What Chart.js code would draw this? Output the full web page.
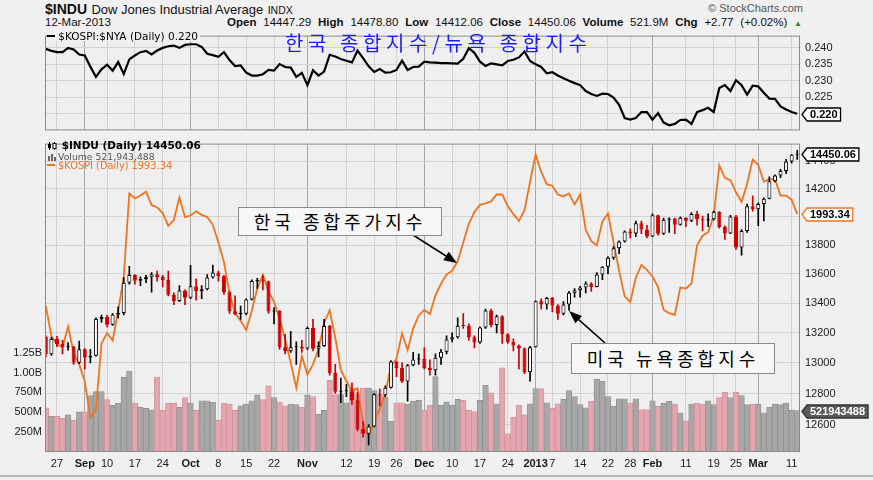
<!DOCTYPE html>
<html>
<head>
<meta charset="utf-8">
<script src="https://cdn.jsdelivr.net/npm/chart.js@4.4.1/dist/chart.umd.min.js"></script>
<style>
  body { margin: 0; width: 873px; height: 480px; overflow: hidden; position: relative;
         background: #f0f0f0; font-family: "Liberation Sans", Arial, sans-serif; color: #111; }
  .t { position: absolute; white-space: nowrap; }
  canvas { position: absolute; left: 0; }
  .leg { position: absolute; white-space: nowrap; font-family: "DejaVu Sans", Verdana, sans-serif; color: #000; }
  .kbox { position: absolute; background: #f7f7f7; border: 1px solid #8a8a8a; text-align: center;
          font-family: "Noto Sans CJK KR", sans-serif; color: #000; white-space: nowrap; }
</style>
</head>
<body>
<div class="t" style="left:45px;top:0px;line-height:17px;"><b style="font-size:14px">$INDU</b> <span style="font-size:13px">Dow Jones Industrial Average</span> <span style="font-size:10.5px">INDX</span></div>
<div class="t" style="right:70px;top:2px;font-size:11px;color:#555">© StockCharts.com</div>
<div class="t" style="left:45px;top:16px;font-size:11.5px;line-height:13px">12-Mar-2013</div>
<div class="t" style="right:71px;top:16px;font-size:11.5px;line-height:13px;word-spacing:3.6px"><b>Open</b> 14447.29 <b>High</b> 14478.80 <b>Low</b> 14412.06 <b>Close</b> 14450.06 <b>Volume</b> 521.9M <b>Chg</b> +2.77 (+0.02%) <span style="color:#2a8a2a;font-size:8px">▲</span></div>

<canvas id="ratioChart" width="873" height="118" style="top:24px"></canvas>
<canvas id="mainChart" width="873" height="348" style="top:132px"></canvas>

<div class="leg" style="left:47px;top:30.5px;font-size:10.5px;line-height:10.5px;background:#efefef;padding-right:2px">
  <span style="display:inline-block;width:8px;height:2px;background:#000;vertical-align:3px"></span> $KOSPI:$NYA (Daily) 0.220
</div>
<div class="leg" style="left:47px;top:140.4px;font-size:10.5px;line-height:10.5px;font-weight:bold"><svg width="11" height="8" style="vertical-align:-1px"><line x1="2.5" y1="0" x2="2.5" y2="8" stroke="#000"/><rect x="1" y="2" width="3" height="4" fill="#000"/><line x1="7.5" y1="0" x2="7.5" y2="8" stroke="#000"/><rect x="6" y="1.5" width="3" height="5" fill="#fff" stroke="#000"/></svg> $INDU (Daily) 14450.06</div>
<div class="leg" style="left:47px;top:152.1px;font-size:9.3px;line-height:9.3px;color:#555"><svg width="11" height="8" style="vertical-align:-1px"><rect x="1" y="3" width="2" height="5" fill="#666"/><rect x="4" y="1" width="2" height="7" fill="#666"/><rect x="7" y="4" width="2" height="4" fill="#666"/></svg>Volume 521,943,488</div>
<div class="leg" style="left:47px;top:161px;font-size:9.8px;line-height:9.8px;color:#ee7420"><span style="display:inline-block;width:8px;height:2px;background:#ee7420;vertical-align:3px"></span> $KOSPI (Daily) 1993.34</div>

<div class="t" style="left:285px;top:32px;font-family:'Noto Sans CJK KR',sans-serif;font-size:20px;line-height:22px;color:#1d1df2;letter-spacing:4.6px">한국 종합지수/뉴욕 종합지수</div>

<svg width="873" height="480" style="position:absolute;left:0;top:0">
  <line x1="413" y1="235" x2="446" y2="256" stroke="#000" stroke-width="1.6"/>
  <polygon points="457,263 443.3,260.2 448.7,251.8" fill="#000"/>
  <line x1="605" y1="343" x2="578.7" y2="319.6" stroke="#000" stroke-width="1.6"/>
  <polygon points="569,311 582,315.9 575.4,323.3" fill="#000"/>
</svg>

<div class="kbox" style="left:238px;top:207px;width:202px;height:27px;line-height:27px;font-size:18px;letter-spacing:4px">한국 종합주가지수</div>
<div class="kbox" style="left:571px;top:343px;width:202px;height:29px;line-height:29px;font-size:18px;letter-spacing:4px">미국 뉴욕종합지수</div>

<div style="position:absolute;left:0;top:475px;width:873px;height:2px;background:#b9b9b9"></div>

<script>
// trading days shown (Dow), Aug 23 2012 .. Mar 12 2013
const startDate = '2012-08-23';
const endDate = '2013-03-12';
const holidays = ['2012-09-03', '2012-10-29', '2012-10-30', '2012-11-22',
                  '2012-12-25', '2013-01-01', '2013-01-21', '2013-02-18'];

const xTickLabels = {
  '2012-08-27': '27', '2012-09-04': 'Sep', '2012-09-10': '10', '2012-09-17': '17', '2012-09-24': '24',
  '2012-10-01': 'Oct', '2012-10-08': '8', '2012-10-15': '15', '2012-10-22': '22',
  '2012-11-01': 'Nov', '2012-11-12': '12', '2012-11-19': '19', '2012-11-26': '26',
  '2012-12-03': 'Dec', '2012-12-10': '10', '2012-12-17': '17', '2012-12-24': '24',
  '2013-01-02': '2013', '2013-01-07': '7', '2013-01-14': '14', '2013-01-22': '22', '2013-01-28': '28',
  '2013-02-01': 'Feb', '2013-02-11': '11', '2013-02-19': '19', '2013-02-25': '25',
  '2013-03-01': 'Mar', '2013-03-11': '11'
};
const monthLabels = ['Sep', 'Oct', 'Nov', 'Dec', '2013', 'Feb', 'Mar'];

// $INDU daily candles
const opens = [
  13172, 13057, 13158, 13125, 13103, 13107, 13001, 13091, 13036, 13047,
  13292, 13307, 13254, 13323, 13333, 13540, 13593, 13553, 13565, 13578,
  13597, 13579, 13559, 13458, 13414, 13486, 13437, 13515, 13482, 13495,
  13575, 13610, 13584, 13474, 13345, 13326, 13329, 13424, 13552, 13557,
  13549, 13344, 13346, 13103, 13077, 13104, 13107, 13096, 13233, 13093,
  13112, 13246, 12933, 12811, 12815, 12815, 12756, 12571, 12542, 12588,
  12796, 12789, 12837, 13010, 12967, 12878, 12985, 13022, 13026, 12966,
  12952, 13034, 13074, 13155, 13170, 13248, 13245, 13171, 13135, 13235,
  13351, 13252, 13312, 13191, 13139, 13115, 13096, 12938, 13104, 13413,
  13391, 13435, 13384, 13329, 13391, 13471, 13488, 13507, 13535, 13511,
  13596, 13650, 13712, 13779, 13825, 13896, 13882, 13954, 13910, 13861,
  14010, 13880, 13979, 13987, 13944, 13993, 13971, 14019, 13983, 13973,
  13982, 14036, 13928, 13881, 14001, 13784, 13900, 14075, 14054, 14090,
  14128, 14254, 14296, 14329, 14397, 14447.29
];
const highs = [
  13180, 13170, 13176, 13150, 13135, 13110, 13145, 13095, 13090, 13300,
  13320, 13320, 13330, 13375, 13575, 13653, 13596, 13580, 13590, 13610,
  13620, 13590, 13620, 13470, 13520, 13490, 13660, 13567, 13520, 13595,
  13661, 13620, 13590, 13480, 13450, 13380, 13430, 13560, 13570, 13590,
  13550, 13370, 13350, 13190, 13210, 13140, 13150, 13240, 13290, 13140,
  13290, 13250, 12990, 12900, 12860, 12870, 12810, 12620, 12600, 12800,
  12830, 12850, 13015, 13012, 13000, 12990, 13070, 13060, 13100, 13020,
  13060, 13090, 13180, 13200, 13300, 13330, 13260, 13180, 13240, 13360,
  13360, 13320, 13315, 13195, 13160, 13120, 13100, 13110, 13415, 13430,
  13440, 13440, 13390, 13410, 13480, 13500, 13515, 13545, 13540, 13610,
  13650, 13720, 13790, 13830, 13900, 13915, 13970, 13970, 13940, 14020,
  14012, 13990, 13993, 13990, 14000, 13995, 14030, 14040, 14005, 14020,
  14040, 14037, 13935, 14010, 14010, 13910, 14090, 14150, 14100, 14135,
  14286, 14300, 14340, 14414, 14448, 14478.80
];
const lows = [
  13040, 13050, 13108, 13060, 13085, 12990, 12995, 12960, 13000, 13045,
  13270, 13240, 13250, 13300, 13320, 13530, 13530, 13520, 13540, 13475,
  13550, 13510, 13450, 13390, 13410, 13390, 13430, 13420, 13430, 13490,
  13570, 13550, 13460, 13330, 13320, 13290, 13320, 13420, 13500, 13490,
  13330, 13260, 13090, 13060, 13070, 12990, 13070, 13090, 13080, 13040,
  13110, 12920, 12800, 12740, 12780, 12730, 12560, 12520, 12470, 12585,
  12720, 12780, 12835, 12910, 12870, 12750, 12980, 12990, 12960, 12920,
  12920, 12990, 13060, 13140, 13165, 13230, 13150, 13100, 13130, 13230,
  13240, 13200, 13130, 13130, 13080, 12960, 12930, 12880, 13104, 13360,
  13360, 13340, 13290, 13320, 13350, 13440, 13440, 13470, 13480, 13510,
  13560, 13600, 13700, 13740, 13820, 13850, 13860, 13880, 13850, 13860,
  13870, 13875, 13890, 13880, 13940, 13930, 13965, 13940, 13900, 13930,
  13975, 13920, 13840, 13880, 13770, 13730, 13890, 14040, 13937, 13970,
  14127, 14250, 14280, 14310, 14385, 14412.06
];
const closes = [
  13057, 13158, 13125, 13103, 13107, 13001, 13091, 13036, 13047, 13292,
  13307, 13254, 13323, 13333, 13540, 13593, 13553, 13565, 13578, 13597,
  13579, 13559, 13458, 13414, 13486, 13437, 13515, 13482, 13495, 13575,
  13610, 13584, 13474, 13345, 13326, 13329, 13424, 13552, 13557, 13549,
  13344, 13346, 13103, 13077, 13104, 13107, 13096, 13233, 13093, 13112,
  13246, 12933, 12811, 12815, 12815, 12756, 12571, 12542, 12588, 12796,
  12789, 12837, 13010, 12967, 12878, 12985, 13022, 13026, 12966, 12952,
  13034, 13074, 13155, 13170, 13248, 13245, 13171, 13135, 13235, 13351,
  13252, 13312, 13191, 13139, 13115, 13096, 12938, 13104, 13413, 13391,
  13435, 13384, 13329, 13391, 13471, 13488, 13507, 13535, 13511, 13596,
  13650, 13712, 13779, 13825, 13896, 13882, 13954, 13910, 13861, 14010,
  13880, 13979, 13987, 13944, 13993, 13971, 14019, 13983, 13973, 13982,
  14036, 13928, 13881, 14001, 13784, 13900, 14075, 14054, 14090, 14128,
  14254, 14296, 14329, 14397, 14447, 14450.06
];

// volume, millions of shares
const volumes = [
  555, 453, 453, 425, 466, 400, 506, 506, 710, 760,
  760, 658, 588, 616, 943, 1017, 616, 563, 548, 530,
  943, 523, 616, 616, 563, 686, 616, 523, 645, 645,
  629, 400, 616, 604, 523, 580, 604, 645, 719, 658,
  833, 686, 629, 580, 604, 596, 563, 719, 698, 473,
  523, 903, 720, 723, 620, 804, 723, 804, 804, 772,
  715, 690, 386, 620, 620, 600, 641, 649, 526, 591,
  949, 591, 632, 591, 661, 649, 526, 509, 649, 838,
  743, 607, 1059, 230, 435, 591, 468, 607, 797, 797,
  620, 551, 607, 661, 772, 698, 597, 555, 637, 915,
  890, 698, 576, 670, 670, 616, 670, 535, 535, 645,
  576, 616, 637, 604, 494, 392, 604, 616, 604, 645,
  597, 686, 751, 686, 751, 710, 597, 604, 604, 494,
  563, 604, 597, 616, 523, 521.9
];

// $KOSPI overlay
const kospi = [
  1939.9, 1922.6, 1917.8, 1916.1, 1928.0, 1912.7, 1906.1, 1896.2, 1875.2, 1879.8,
  1918.3, 1924.3, 1920.0, 1937.1, 1957.0, 2005.3, 2002.4, 2004.1, 2006.4, 1998.5,
  1997.3, 1993.9, 1986.5, 1989.9, 2003.0, 1991.6, 1992.5, 1995.0, 1992.9, 1991.6,
  1987.1, 1976.9, 1965.5, 1947.3, 1935.9, 1931.4, 1926.0, 1937.1, 1950.3, 1958.1,
  1948.5, 1942.4, 1932.5, 1920.9, 1907.1, 1892.5, 1910.9, 1900.2, 1906.1, 1914.9,
  1930.3, 1937.4, 1921.7, 1902.8, 1896.5, 1890.6, 1892.2, 1872.4, 1864.0, 1873.4,
  1880.0, 1889.4, 1905.3, 1909.4, 1924.0, 1914.4, 1927.0, 1934.5, 1937.7, 1935.4,
  1946.2, 1953.0, 1958.3, 1960.4, 1966.1, 1976.9, 1987.7, 1994.5, 1998.7, 1999.6,
  2000.7, 2004.7, 2004.7, 1997.9, 1993.3, 1989.4, 1995.6, 2012.1, 2028.0, 2017.8,
  2010.7, 2009.8, 2004.7, 2003.6, 2005.3, 1999.0, 2004.7, 1984.2, 1977.7, 1975.2,
  1989.1, 1993.7, 1976.9, 1960.4, 1945.6, 1942.2, 1956.4, 1963.8, 1961.0, 1957.0,
  1951.0, 1937.7, 1935.9, 1934.8, 1950.7, 1950.2, 1953.0, 1975.2, 1980.8, 1982.9,
  1992.4, 2021.6, 2014.4, 2013.0, 2006.0, 2000.4, 2011.0, 2025.0, 2021.9, 2012.2,
  2013.5, 2013.6, 2004.1, 2004.1, 2001.6, 1993.34
];

// $KOSPI:$NYA ratio (top panel)
const kospiNyaRatio = [
  0.2397, 0.2391, 0.2387, 0.2387, 0.2400, 0.2395, 0.2380, 0.2377, 0.2343, 0.2312,
  0.2335, 0.2349, 0.2331, 0.2357, 0.2321, 0.2365, 0.2377, 0.2387, 0.2391, 0.2380,
  0.2392, 0.2400, 0.2405, 0.2407, 0.2400, 0.2409, 0.2411, 0.2411, 0.2403, 0.2382,
  0.2378, 0.2373, 0.2387, 0.2363, 0.2345, 0.2347, 0.2325, 0.2316, 0.2316, 0.2320,
  0.2333, 0.2331, 0.2351, 0.2342, 0.2340, 0.2312, 0.2324, 0.2287, 0.2332, 0.2316,
  0.2328, 0.2379, 0.2374, 0.2366, 0.2361, 0.2356, 0.2392, 0.2369, 0.2344, 0.2327,
  0.2336, 0.2325, 0.2326, 0.2333, 0.2361, 0.2333, 0.2342, 0.2343, 0.2358, 0.2356,
  0.2355, 0.2354, 0.2354, 0.2353, 0.2352, 0.2367, 0.2399, 0.2385, 0.2358, 0.2345,
  0.2353, 0.2350, 0.2347, 0.2360, 0.2364, 0.2371, 0.2389, 0.2360, 0.2350, 0.2342,
  0.2323, 0.2326, 0.2316, 0.2308, 0.2300, 0.2293, 0.2287, 0.2269, 0.2260, 0.2254,
  0.2261, 0.2260, 0.2249, 0.2227, 0.2187, 0.2182, 0.2187, 0.2205, 0.2205, 0.2182,
  0.2202, 0.2173, 0.2165, 0.2169, 0.2181, 0.2182, 0.2169, 0.2205, 0.2211, 0.2218,
  0.2205, 0.2278, 0.2287, 0.2269, 0.2302, 0.2287, 0.2258, 0.2285, 0.2283, 0.2264,
  0.2246, 0.2245, 0.2222, 0.2213, 0.2205, 0.2200
];

const induTicks = [12600, 12800, 13000, 13200, 13400, 13600, 13800, 14000, 14200, 14400];
const ratioTicks = [0.220, 0.225, 0.230, 0.235, 0.240];
const volumeTicks = [250, 500, 750, 1000, 1250];

const FONT = '"Liberation Sans", Arial, sans-serif';
const ORANGE = '#ee7420';
const RED = '#cc0000';

function tradingDays(start, end, skip) {
  const out = [];
  const d = new Date(start + 'T00:00:00Z');
  const last = new Date(end + 'T00:00:00Z');
  while (d <= last) {
    const iso = d.toISOString().slice(0, 10);
    const wd = d.getUTCDay();
    if (wd !== 0 && wd !== 6 && !skip.includes(iso)) out.push(iso);
    d.setUTCDate(d.getUTCDate() + 1);
  }
  return out;
}

const dates = tradingDays(startDate, endDate, holidays);
const tickIndex = dates.map((d, i) => (xTickLabels[d] ? i : -1)).filter((i) => i >= 0);
const isMonthTick = (tick) => !!tick && monthLabels.includes(xTickLabels[dates[tick.value]]);
const up = closes.map((c, i) => c >= opens[i]);

function xScale(showLabels) {
  return {
    type: 'linear',
    min: -0.15,
    max: dates.length - 0.5,
    offset: false,
    afterBuildTicks: (s) => { s.ticks = tickIndex.map((v) => ({ value: v })); },
    afterFit: (s) => { s.height = showLabels ? 28 : 0; },
    grid: {
      offset: false,
      drawTicks: false,
      color: (c) => (isMonthTick(c.tick) ? '#a6a6a6' : '#d2d2d2'),
    },
    border: { display: false },
    ticks: {
      display: showLabels,
      autoSkip: false,
      maxRotation: 0,
      padding: 5,
      color: '#1a1a1a',
      font: (c) => ({ family: FONT, size: 11, weight: isMonthTick(c.tick) ? 'bold' : 'normal' }),
      callback: (v) => xTickLabels[dates[v]] || '',
    },
  };
}

// panel background, frame and the value tags on the right axis
const panelPlugin = {
  id: 'panel',
  beforeDraw(chart) {
    const { ctx, chartArea: a } = chart;
    ctx.save();
    ctx.fillStyle = '#efefef';
    ctx.fillRect(a.left, a.top, a.right - a.left, a.bottom - a.top);
    ctx.restore();
  },
  afterDraw(chart, args, opts) {
    const { ctx, chartArea: a } = chart;
    ctx.save();
    ctx.strokeStyle = '#8a8a8a';
    ctx.lineWidth = 1;
    ctx.strokeRect(a.left + 0.5, a.top + 0.5, a.right - a.left - 1, a.bottom - a.top - 1);
    (opts.tags || []).forEach((t) => {
      const y = Math.round(chart.scales[t.axis].getPixelForValue(t.value)) + 0.5;
      const x = a.right + 2;
      ctx.font = 'bold 11px ' + FONT;
      const w = ctx.measureText(t.text).width + 6;
      const h = 13;
      ctx.beginPath();
      ctx.moveTo(x, y);
      ctx.lineTo(x + 5, y - h / 2);
      ctx.lineTo(x + 5 + w, y - h / 2);
      ctx.lineTo(x + 5 + w, y + h / 2);
      ctx.lineTo(x + 5, y + h / 2);
      ctx.closePath();
      ctx.fillStyle = t.fill;
      ctx.fill();
      ctx.lineWidth = 1.3;
      ctx.strokeStyle = t.stroke;
      ctx.stroke();
      ctx.fillStyle = t.color;
      ctx.textBaseline = 'middle';
      ctx.fillText(t.text, x + 8, y + 0.5);
    });
    ctx.restore();
  },
};

// top panel: KOSPI / NYA ratio
new Chart(document.getElementById('ratioChart'), {
  type: 'line',
  data: {
    datasets: [{
      data: kospiNyaRatio.map((v, i) => ({ x: i, y: v })),
      borderColor: '#000',
      borderWidth: 2.2,
      pointRadius: 0,
      tension: 0,
      yAxisID: 'ratio',
    }],
  },
  options: {
    responsive: false,
    animation: false,
    events: [],
    layout: { padding: { left: 45, top: 5, bottom: 5 } },
    plugins: {
      legend: { display: false },
      tooltip: { enabled: false },
      panel: { tags: [{ axis: 'ratio', value: 0.220, text: '0.220', fill: '#fff', stroke: '#000', color: '#000' }] },
    },
    scales: {
      x: xScale(false),
      ratio: {
        type: 'linear',
        position: 'right',
        min: 0.214933,
        max: 0.243733,
        bounds: 'data',
        afterBuildTicks: (s) => { s.ticks = ratioTicks.map((v) => ({ value: v })); },
        afterFit: (s) => { s.width = 73; },
        grid: { color: '#d2d2d2', drawTicks: false },
        border: { display: false },
        ticks: { padding: 5, color: '#1a1a1a', font: { family: FONT, size: 11 }, callback: (v) => v.toFixed(3) },
      },
    },
  },
  plugins: [panelPlugin],
});

// main panel: candles, volume, KOSPI overlay
new Chart(document.getElementById('mainChart'), {
  type: 'bar',
  data: {
    datasets: [
      {
        type: 'bar',
        data: volumes.map((v, i) => ({ x: i, y: v })),
        yAxisID: 'vol',
        grouped: false,
        categoryPercentage: 1,
        barPercentage: 1,
        backgroundColor: up.map((u) => (u ? '#a7a7a7' : '#e4a6ae')),
        borderColor: up.map((u) => (u ? '#8f8f8f' : '#d3919a')),
        borderWidth: 0.8,
        borderSkipped: false,
        order: 4,
      },
      {
        type: 'line',
        data: kospi.map((v, i) => ({ x: i, y: v })),
        yAxisID: 'kospi',
        borderColor: ORANGE,
        borderWidth: 1.8,
        pointRadius: 0,
        tension: 0,
        order: 3,
      },
      {
        type: 'bar',
        data: closes.map((c, i) => ({ x: i, y: [Math.min(lows[i], opens[i], c), Math.max(highs[i], opens[i], c)] })),
        yAxisID: 'indu',
        grouped: false,
        barThickness: 1,
        backgroundColor: up.map((u) => (u ? '#000' : RED)),
        borderWidth: 0,
        order: 2,
      },
      {
        type: 'bar',
        data: closes.map((c, i) => ({ x: i, y: [Math.min(opens[i], c), Math.max(opens[i], c)] })),
        yAxisID: 'indu',
        grouped: false,
        categoryPercentage: 1,
        barPercentage: 0.72,
        minBarLength: 1,
        backgroundColor: up.map((u) => (u ? '#fafafa' : RED)),
        borderColor: up.map((u) => (u ? '#000' : RED)),
        borderWidth: 1,
        borderSkipped: false,
        order: 1,
      },
    ],
  },
  options: {
    responsive: false,
    animation: false,
    events: [],
    layout: { padding: { top: 5 } },
    plugins: {
      legend: { display: false },
      tooltip: { enabled: false },
      panel: {
        tags: [
          { axis: 'indu', value: 14450.06, text: '14450.06', fill: '#fff', stroke: '#000', color: '#000' },
          { axis: 'kospi', value: 1993.34, text: '1993.34', fill: '#fff', stroke: ORANGE, color: '#000' },
          { axis: 'vol', value: 521.9, text: '521943488', fill: '#5a5a5a', stroke: '#333', color: '#fff' },
        ],
      },
    },
    scales: {
      x: xScale(true),
      indu: {
        type: 'logarithmic',
        position: 'right',
        min: 12426,
        max: 14529,
        bounds: 'data',
        afterBuildTicks: (s) => { s.ticks = induTicks.map((v) => ({ value: v })); },
        afterFit: (s) => { s.width = 73; },
        grid: { color: '#d2d2d2', drawTicks: false },
        border: { display: false },
        ticks: { padding: 5, color: '#1a1a1a', font: { family: FONT, size: 11 }, callback: (v) => String(v) },
      },
      vol: {
        type: 'linear',
        position: 'left',
        min: 0,
        max: 3879,
        bounds: 'data',
        afterBuildTicks: (s) => { s.ticks = volumeTicks.map((v) => ({ value: v })); },
        afterFit: (s) => { s.width = 45; },
        grid: { display: false, drawTicks: false },
        border: { display: false },
        ticks: {
          padding: 3,
          color: '#1a1a1a',
          font: { family: FONT, size: 11 },
          callback: (v) => (v >= 1000 ? (v / 1000).toFixed(2) + 'B' : v + 'M'),
        },
      },
      kospi: { type: 'linear', display: false, min: 1855.27, max: 2034.25, bounds: 'data' },
    },
  },
  plugins: [panelPlugin],
});
</script>
</body>
</html>
